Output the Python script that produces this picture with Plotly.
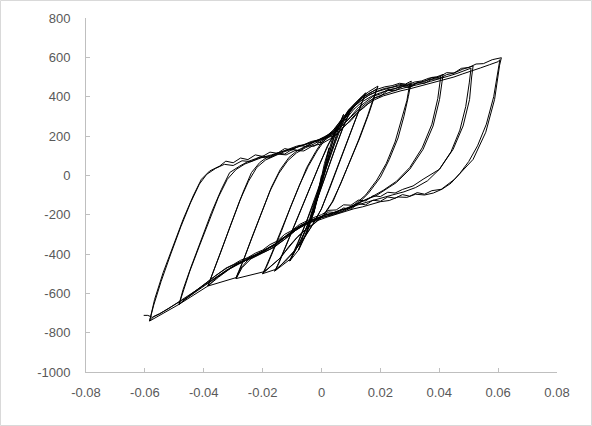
import plotly.graph_objects as go

# ---- tick labels ----
x_ticks = [-0.08, -0.06, -0.04, -0.02, 0, 0.02, 0.04, 0.06, 0.08]
x_tick_text = ["-0.08", "-0.06", "-0.04", "-0.02", "0", "0.02", "0.04", "0.06", "0.08"]
y_ticks = [-1000, -800, -600, -400, -200, 0, 200, 400, 600, 800]
y_tick_text = ["-1000", "-800", "-600", "-400", "-200", "0", "200", "400", "600", "800"]

# ---- hysteresis loops ----
start_x = [0.0]
start_y = [0.0]

up025_x = [-0.0026, -0.001, 0.0, 0.001, 0.0026]
up025_y = [-190, -100, -30, 40, 140]
dn025_x = [0.0026, 0.001, 0.0, -0.001, -0.0026]
dn025_y = [140, 60, -10, -80, -190]

up05_x = [-0.0052, -0.004, -0.002, 0.0, 0.002, 0.004, 0.0052]
up05_y = [-300, -250, -150, -40, 80, 190, 250]
dn05_x = [0.0052, 0.004, 0.002, 0.0, -0.002, -0.004, -0.0052]
dn05_y = [250, 200, 100, -20, -130, -240, -300]

up075_x = [-0.0078, -0.006, -0.004, -0.002, 0.0, 0.002, 0.004, 0.006, 0.0075]
up075_y = [-380, -320, -240, -150, -50, 60, 160, 250, 310]
dn075_x = [0.0075, 0.006, 0.004, 0.002, 0.0, -0.002, -0.004, -0.006, -0.0078]
dn075_y = [310, 260, 180, 80, -30, -130, -220, -300, -380]

up10_x = [-0.0108, -0.010, -0.008, -0.005, -0.002, 0.001, 0.004, 0.007, 0.009, 0.0106]
up10_y = [-436, -410, -340, -230, -110, 20, 150, 270, 330, 351]
dn10_x = [0.0106, 0.0095, 0.0075, 0.005, 0.002, -0.001, -0.004, -0.007, -0.009, -0.0108]
dn10_y = [351, 320, 250, 150, 20, -110, -230, -330, -390, -436]
up10b_x = [-0.0105, -0.0095, -0.0075, -0.0045, -0.0015, 0.0015, 0.0045, 0.0075, 0.0092, 0.0103]
up10b_y = [-425, -398, -328, -218, -98, 32, 160, 276, 328, 344]
dn10b_x = [0.0103, 0.0092, 0.0072, 0.0047, 0.0017, -0.0013, -0.0043, -0.0073, -0.0093, -0.0105]
dn10b_y = [344, 310, 240, 140, 10, -120, -240, -338, -392, -425]

up15_x = [-0.0159, -0.015, -0.013, -0.010, -0.007, -0.004, -0.001, 0.002, 0.005, 0.008, 0.011, 0.0135, 0.015]
up15_y = [-487, -460, -390, -280, -170, -60, 50, 150, 230, 300, 360, 400, 420]
dn15_x = [0.015, 0.014, 0.012, 0.009, 0.006, 0.003, 0.0, -0.003, -0.006, -0.009, -0.012, -0.014, -0.0159]
dn15_y = [420, 380, 300, 180, 60, -60, -170, -250, -320, -380, -430, -460, -487]
up15b_x = [-0.0155, -0.0145, -0.0125, -0.0095, -0.0065, -0.0035, -0.0005, 0.0025, 0.0055, 0.0085, 0.0115, 0.0135, 0.0148]
up15b_y = [-478, -448, -378, -270, -158, -48, 62, 160, 240, 306, 362, 396, 412]
dn15b_x = [0.0148, 0.0138, 0.0118, 0.0088, 0.0058, 0.0028, -0.0002, -0.0032, -0.0062, -0.0092, -0.0122, -0.0142, -0.0155]
dn15b_y = [412, 372, 292, 172, 52, -66, -176, -256, -326, -386, -436, -462, -478]

up20_x = [-0.020, -0.019, -0.017, -0.014, -0.011, -0.008, -0.005, -0.002, 0.001, 0.004, 0.007, 0.010, 0.013, 0.016, 0.0192]
up20_y = [-500, -470, -400, -290, -170, -60, 40, 120, 190, 230, 290, 345, 390, 425, 454]
dn20_x = [0.0192, 0.018, 0.016, 0.013, 0.010, 0.007, 0.004, 0.001, -0.002, -0.005, -0.008, -0.011, -0.014, -0.017, -0.020]
dn20_y = [454, 400, 310, 190, 80, -30, -130, -200, -240, -270, -310, -360, -420, -460, -500]
up20b_x = [-0.0195, -0.0185, -0.0165, -0.0135, -0.0105, -0.0075, -0.0045, -0.0015, 0.0015, 0.0045, 0.0075, 0.0105, 0.0135, 0.0165, 0.0188]
up20b_y = [-490, -460, -390, -280, -160, -50, 46, 124, 188, 236, 296, 348, 390, 420, 440]
dn20b_x = [0.0188, 0.0176, 0.0156, 0.0126, 0.0096, 0.0066, 0.0036, 0.0006, -0.0024, -0.0054, -0.0084, -0.0114, -0.0144, -0.0174, -0.0195]
dn20b_y = [440, 390, 300, 180, 70, -40, -136, -204, -244, -276, -318, -370, -426, -464, -490]

up30_x = [-0.029, -0.028, -0.026, -0.023, -0.020, -0.017, -0.014, -0.011, -0.008, -0.005, -0.002, 0.001,
          0.004, 0.0065, 0.009, 0.0115, 0.014, 0.0165, 0.019, 0.0215, 0.024, 0.0265, 0.0285, 0.0305]
up30_y = [-525, -490, -410, -290, -170, -60, 30, 92, 128, 150, 172, 196,
          222, 268, 318, 362, 396, 420, 438, 450, 456, 468, 464, 479]
dn30_x = [0.0305, 0.0295, 0.028, 0.026, 0.023, 0.020, 0.016, 0.012, 0.008, 0.004, 0.0, -0.004,
          -0.008, -0.012, -0.016, -0.020, -0.024, -0.027, -0.029]
dn30_y = [479, 400, 300, 190, 80, -10, -90, -150, -180, -200, -215, -240,
          -270, -320, -365, -395, -425, -470, -525]
up30b_x = [-0.029, -0.0282, -0.0262, -0.0235, -0.0205, -0.0175, -0.0145, -0.0115, -0.0085, -0.0055, -0.0025, 0.0005,
           0.0035, 0.006, 0.0085, 0.011, 0.0135, 0.016, 0.0185, 0.021, 0.0235, 0.026, 0.0285, 0.0300]
up30b_y = [-520, -490, -420, -310, -190, -80, 10, 74, 114, 140, 160, 184,
           212, 256, 304, 348, 382, 406, 424, 436, 446, 454, 462, 466]
dn30b_x = [0.0300, 0.0290, 0.0272, 0.0250, 0.0220, 0.0188, 0.0150, 0.0110, 0.0070, 0.0030, -0.001, -0.005,
           -0.009, -0.013, -0.017, -0.021, -0.025, -0.0275, -0.029]
dn30b_y = [466, 380, 280, 170, 60, -24, -100, -152, -182, -202, -220, -246,
           -282, -330, -372, -400, -430, -474, -520]

up40_x = [-0.0386, -0.0369, -0.0335, -0.0301, -0.0267, -0.0238, -0.0210, -0.0185, -0.0160, -0.0135, -0.0110,
          -0.0085, -0.0060, -0.0035, -0.0010, 0.0015, 0.004, 0.0065, 0.009, 0.0115, 0.014, 0.0165, 0.019,
          0.0215, 0.024, 0.0265, 0.029, 0.0315, 0.034, 0.0365, 0.039, 0.0413]
up40_y = [-563, -495, -359, -224, -88, 14, 65, 92, 106, 120, 136,
          148, 156, 172, 180, 200, 218, 262, 312, 356, 386, 412, 428,
          442, 448, 462, 458, 474, 480, 494, 500, 513]
dn40_x = [0.0413, 0.0401, 0.0379, 0.0345, 0.0300, 0.0254, 0.0209, 0.0185, 0.016, 0.0135, 0.011, 0.0085,
          0.006, 0.0035, 0.001, -0.0015, -0.004, -0.0065, -0.009, -0.0115, -0.014, -0.0165, -0.019,
          -0.0215, -0.024, -0.0265, -0.029, -0.0315, -0.034, -0.0365, -0.0386]
dn40_y = [513, 386, 251, 132, 31, -37, -80, -104, -118, -136, -150, -170,
          -178, -196, -202, -222, -232, -256, -272, -306, -326, -362, -376,
          -402, -414, -440, -452, -478, -500, -530, -563]
up40b_x = [-0.0386, -0.0372, -0.0342, -0.0310, -0.0278, -0.0248, -0.0220, -0.0190, -0.0160, -0.0130, -0.0100,
           -0.0070, -0.0040, -0.0010, 0.002, 0.005, 0.008, 0.011, 0.014, 0.017, 0.020, 0.023, 0.026, 0.029,
           0.032, 0.035, 0.038, 0.0405]
up40b_y = [-563, -510, -390, -258, -130, -30, 40, 78, 100, 118, 134,
           150, 164, 180, 196, 226, 282, 336, 376, 402, 420, 434, 446, 456,
           468, 480, 492, 502]
dn40b_x = [0.0405, 0.0395, 0.0375, 0.0342, 0.0300, 0.0255, 0.0210, 0.017, 0.013, 0.009, 0.005, 0.001,
           -0.003, -0.007, -0.011, -0.015, -0.019, -0.023, -0.027, -0.031, -0.035, -0.0386]
dn40b_y = [502, 390, 260, 140, 40, -30, -76, -110, -138, -164, -186, -204,
           -226, -254, -298, -344, -380, -410, -440, -474, -518, -563]

up50_x = [-0.0484, -0.0470, -0.0442, -0.0408, -0.0374, -0.0340, -0.0312, -0.0278, -0.0250, -0.0225, -0.0200,
          -0.0175, -0.0150, -0.0125, -0.0100, -0.0075, -0.0050, -0.0025, 0.0, 0.0025, 0.005, 0.0075, 0.010,
          0.0125, 0.015, 0.0175, 0.020, 0.0225, 0.025, 0.0275, 0.030, 0.0325, 0.035, 0.0375, 0.040, 0.0425,
          0.045, 0.048, 0.0515]
up50_y = [-656, -580, -461, -325, -190, -71, 14, 47, 70, 84, 98,
          92, 114, 108, 132, 126, 150, 148, 176, 196, 222, 262, 300,
          344, 372, 402, 414, 436, 440, 458, 452, 470, 468, 488, 492, 512,
          520, 540, 556]
dn50_x = [0.0515, 0.0510, 0.0503, 0.0481, 0.0447, 0.0401, 0.0345, 0.0311, 0.0275, 0.025, 0.0225, 0.020,
          0.0175, 0.015, 0.0125, 0.010, 0.0075, 0.005, 0.0025, 0.0, -0.0025, -0.005, -0.0075, -0.010,
          -0.0125, -0.015, -0.0175, -0.020, -0.0225, -0.025, -0.0275, -0.030, -0.0325, -0.035, -0.0375,
          -0.040, -0.0425, -0.045, -0.0484]
dn50_y = [556, 500, 386, 251, 132, 31, -20, -54, -72, -90, -86, -108,
          -104, -130, -126, -152, -150, -176, -178, -200, -214, -234, -250, -280,
          -300, -334, -352, -380, -396, -418, -432, -454, -472, -500, -528,
          -556, -584, -612, -656]
up50b_x = [-0.0484, -0.0472, -0.0448, -0.0415, -0.0382, -0.0350, -0.0320, -0.0290, -0.0260, -0.0230, -0.0200,
           -0.0170, -0.0140, -0.0110, -0.0080, -0.0050, -0.0020, 0.001, 0.004, 0.007, 0.010, 0.013, 0.016,
           0.019, 0.022, 0.025, 0.028, 0.031, 0.034, 0.037, 0.040, 0.043, 0.046, 0.049, 0.0508]
up50b_y = [-656, -600, -490, -360, -228, -110, -20, 30, 58, 76, 92,
           104, 118, 132, 144, 158, 170, 186, 208, 250, 296, 340, 376,
           400, 418, 432, 444, 454, 466, 478, 490, 504, 518, 534, 545]
dn50b_x = [0.0508, 0.0502, 0.0490, 0.0470, 0.0440, 0.0400, 0.0360, 0.0320, 0.028, 0.024, 0.020, 0.016,
           0.012, 0.008, 0.004, 0.0, -0.004, -0.008, -0.012, -0.016, -0.020, -0.024, -0.028, -0.032,
           -0.036, -0.040, -0.044, -0.0484]
dn50b_y = [545, 470, 350, 230, 120, 30, -28, -62, -84, -100, -116, -134,
           -152, -170, -190, -208, -232, -262, -306, -350, -386, -414, -440, -470,
           -510, -558, -604, -656]

up60_x = [-0.0584, -0.0567, -0.0538, -0.0504, -0.0470, -0.0436, -0.0408, -0.0380, -0.0346, -0.0325, -0.0300,
          -0.0275, -0.0250, -0.0225, -0.0200, -0.0175, -0.0150, -0.0125, -0.0100, -0.0075, -0.0050, -0.0025,
          0.0, 0.0025, 0.005, 0.0075, 0.010, 0.0125, 0.015, 0.0175, 0.020, 0.0225, 0.025, 0.0275, 0.030,
          0.0325, 0.035, 0.0375, 0.040, 0.0425, 0.045, 0.0475, 0.050, 0.0525, 0.055, 0.058, 0.0611]
up60_y = [-741, -631, -495, -359, -224, -105, -20, 22, 47, 72, 64,
          88, 80, 104, 96, 118, 112, 136, 128, 152, 146, 172,
          166, 194, 205, 248, 278, 322, 352, 392, 402, 432, 430, 452, 446,
          470, 476, 498, 500, 522, 520, 544, 548, 566, 568, 588, 598]
dn60_x = [0.0611, 0.0605, 0.0588, 0.0558, 0.0515, 0.0452, 0.0407, 0.0375, 0.035, 0.0325, 0.030, 0.0275,
          0.025, 0.0225, 0.020, 0.0175, 0.015, 0.0125, 0.010, 0.0075, 0.005, 0.0025, 0.0, -0.0025, -0.005,
          -0.0075, -0.010, -0.0125, -0.015, -0.0175, -0.020, -0.0225, -0.025, -0.0275, -0.030, -0.0325,
          -0.035, -0.0375, -0.040, -0.0425, -0.045, -0.0475, -0.050, -0.0525, -0.055, -0.057, -0.0584]
dn60_y = [598, 560, 386, 219, 81, -20, -71, -78, -96, -88, -106, -98,
          -116, -110, -132, -126, -150, -144, -172, -166, -190, -186, -212, -222, -244,
          -262, -292, -316, -348, -366, -392, -406, -428, -442, -462, -484,
          -512, -538, -566, -588, -616, -636, -660, -682, -704, -718, -741]
up60b_x = [-0.0584, -0.0570, -0.0545, -0.0512, -0.0478, -0.0445, -0.0415, -0.0390, -0.0360, -0.0330, -0.0300,
           -0.0270, -0.0240, -0.0210, -0.0180, -0.0150, -0.0120, -0.0090, -0.0060, -0.0030, 0.0, 0.003, 0.006,
           0.009, 0.012, 0.015, 0.018, 0.021, 0.024, 0.027, 0.030, 0.033, 0.036, 0.039, 0.042, 0.045, 0.048,
           0.051, 0.054, 0.057, 0.0600, 0.0606]
up60b_y = [-741, -660, -540, -400, -262, -140, -45, 5, 35, 56, 50,
           74, 70, 92, 88, 108, 104, 126, 124, 150, 160, 186, 220,
           268, 318, 356, 384, 404, 418, 430, 440, 452, 466, 478, 490, 500, 516,
           530, 546, 562, 578, 588]
dn60b_x = [0.0606, 0.0600, 0.0585, 0.0560, 0.0530, 0.0500, 0.0470, 0.0440, 0.0410, 0.0380, 0.035, 0.032,
           0.029, 0.026, 0.023, 0.020, 0.017, 0.014, 0.011, 0.008, 0.005, 0.002, -0.001, -0.004, -0.007,
           -0.010, -0.013, -0.016, -0.019, -0.022, -0.025, -0.028, -0.031, -0.034, -0.037, -0.040, -0.043,
           -0.046, -0.049, -0.052, -0.055, -0.0575, -0.0590, -0.0604]
dn60b_y = [588, 540, 400, 260, 150, 70, 10, -40, -70, -90, -100, -96,
           -112, -110, -128, -134, -148, -160, -170, -184, -196, -212, -228, -240, -262,
           -290, -320, -352, -378, -404, -426, -448, -472, -500, -530, -560, -590,
           -620, -648, -678, -704, -722, -712, -712]

segments_x = [start_x, up025_x, dn025_x, up05_x, dn05_x, up075_x, dn075_x,
              up10_x, dn10_x, up10b_x, dn10b_x, up15_x, dn15_x, up15b_x, dn15b_x,
              up20_x, dn20_x, up20b_x, dn20b_x, up30_x, dn30_x, up30b_x, dn30b_x,
              up40_x, dn40_x, up40b_x, dn40b_x, up50_x, dn50_x, up50b_x, dn50b_x,
              up60_x, dn60_x, up60b_x, dn60b_x]
segments_y = [start_y, up025_y, dn025_y, up05_y, dn05_y, up075_y, dn075_y,
              up10_y, dn10_y, up10b_y, dn10b_y, up15_y, dn15_y, up15b_y, dn15b_y,
              up20_y, dn20_y, up20b_y, dn20b_y, up30_y, dn30_y, up30b_y, dn30b_y,
              up40_y, dn40_y, up40b_y, dn40b_y, up50_y, dn50_y, up50b_y, dn50b_y,
              up60_y, dn60_y, up60b_y, dn60b_y]

xs, ys = [], []
for sx, sy in zip(segments_x, segments_y):
    xs.extend(sx)
    ys.extend(sy)

fig = go.Figure()
fig.add_trace(go.Scatter(x=xs, y=ys, mode="lines",
                         line=dict(color="black", width=1), showlegend=False, hoverinfo="skip"))

W, H = 592, 426
ml, mr, mt, mb = 86, 35, 18, 54
pw, ph = W - ml - mr, H - mt - mb

tickfont = dict(family="Liberation Sans, Arial, sans-serif", size=13, color="#595959")
fig.update_layout(
    width=W, height=H,
    margin=dict(l=ml, r=mr, t=mt, b=mb, pad=0, autoexpand=False),
    paper_bgcolor="white", plot_bgcolor="white",
    xaxis=dict(range=[-0.08, 0.08], tickvals=x_ticks, ticktext=x_tick_text, showgrid=False,
               zeroline=False, showline=True, linecolor="#BFBFBF", linewidth=1,
               ticks="inside", ticklen=4, tickcolor="#BFBFBF", tickwidth=1,
               tickfont=tickfont, ticklabelstandoff=8, automargin=False),
    yaxis=dict(range=[-1000, 800], tickvals=y_ticks, ticktext=y_tick_text, showgrid=False,
               zeroline=False, showline=True, linecolor="#BFBFBF", linewidth=1,
               ticks="inside", ticklen=4, tickcolor="#BFBFBF", tickwidth=1,
               tickfont=tickfont, ticklabelstandoff=12, automargin=False),
    shapes=[dict(type="rect", xref="paper", yref="paper",
                 x0=(-ml + 0.5) / pw, x1=1 + (mr - 0.5) / pw,
                 y0=(-mb + 0.5) / ph, y1=1 + (mt - 0.5) / ph,
                 line=dict(color="#D9D9D9", width=1), fillcolor="rgba(0,0,0,0)", layer="below")],
)

fig.write_html("out.html", config={"displayModeBar": False},
               post_script="document.body.style.margin='0px';")
